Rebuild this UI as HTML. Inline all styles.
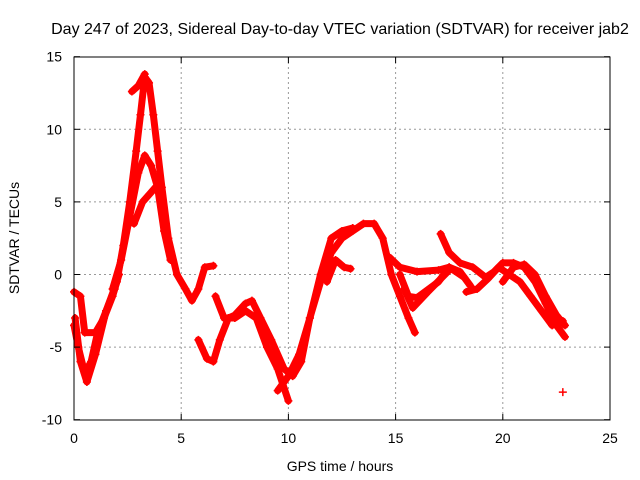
<!DOCTYPE html>
<html><head><meta charset="utf-8"><style>
body{margin:0;background:#fff}
svg{display:block;font-family:"Liberation Sans",sans-serif}
</style></head><body>
<svg id="c" width="640" height="480">
<rect width="640" height="480" fill="#fff"/>
<text x="340" y="34" font-size="16" text-anchor="middle">Day 247 of 2023, Sidereal Day-to-day VTEC variation (SDTVAR) for receiver jab2</text>
<g id="grid"></g>
<g id="marks"></g>
<rect x="74" y="57" width="536" height="363" fill="none" stroke="#000" stroke-width="1"/>
<g id="ticks" font-size="14"></g>
<text x="340" y="471" font-size="14" text-anchor="middle">GPS time / hours</text>
<text transform="translate(19,238) rotate(-90)" font-size="14" text-anchor="middle">SDTVAR / TECUs</text>
</svg>
<script>
const xTicks=[0,5,10,15,20,25];
const yTicks=[-10,-5,0,5,10,15];
const trackA=[[0.05,-3],[0.3,-6],[0.6,-7.4],[1,-5.5],[1.5,-2.5],[2,-0.5],[2.3,2],[2.6,5],[2.9,8.5],[3.1,11],[3.3,13.6],[3.5,13.2],[3.7,11],[3.9,8.5],[4.1,6],[4.4,2.5],[4.8,0],[5.2,-1],[5.5,-1.8],[5.8,-1],[6.1,0.5],[6.5,0.6]];
const trackB=[[1.8,-1],[2.2,1],[2.6,4],[3.0,7],[3.3,8.2],[3.6,7.5],[3.9,6],[4.2,3],[4.5,1]];
const trackC=[[2.7,12.6],[3.0,13],[3.3,13.8]];
const trackD=[[2.8,3.5],[3.2,5],[3.5,5.5],[3.8,6]];
const trackE=[[0,-1.2],[0.3,-1.5],[0.5,-4],[1,-4],[1.4,-3],[1.8,-1.5],[2.1,0]];
const trackF=[[0,-3.5],[0.2,-5],[0.5,-6.8],[0.8,-6],[1.1,-4],[1.5,-2.5],[1.9,-1]];
const trackG=[[5.8,-4.5],[6.2,-5.8],[6.5,-6],[6.8,-4.5],[7.2,-3],[7.5,-2.8],[8,-2],[8.3,-1.8],[8.7,-3],[9.2,-4.5],[9.8,-6.5],[10.2,-7],[10.6,-6],[11,-3],[11.5,-0.5],[12,1.5],[12.5,2.5],[13,3],[13.5,3.5],[14,3.5],[14.4,2.5],[14.8,0],[15.2,-1.5],[15.6,-3],[15.9,-4]];
const trackH=[[6.6,-1.5],[7,-3],[7.5,-3],[8,-2.5],[8.5,-3],[9,-5],[9.5,-6.5],[10,-8.7]];
const trackI=[[9.5,-8],[10,-7],[10.5,-5.5],[11,-3],[11.5,0],[12,2.5],[12.5,3],[13,3.2]];
const trackJ=[[11.8,-0.5],[12.2,1],[12.6,0.5],[12.9,0.4]];
const trackK=[[14.7,1.2],[15.2,0.5],[16,0.2],[17,0.3],[17.5,0.5],[18,0.2],[18.5,-0.8]];
const trackL=[[15.2,0],[15.6,-1.5],[16,-1.6],[17,-0.5],[17.5,0.5],[18.2,-0.2]];
const trackM=[[15.4,-1],[15.8,-2.3],[16.5,-1.2],[17.5,0.3]];
const trackN=[[17.1,2.8],[17.5,1.5],[18,0.8],[18.6,0.5],[19.2,-0.2],[19.6,0.2],[20,0.8],[20.5,0.8],[21,0.5],[21.5,-0.5],[22,-2],[22.5,-3.5],[22.9,-4.3]];
const trackO=[[18.3,-1.2],[18.8,-1],[19.3,-0.3],[19.8,0.5],[20.3,0],[20.8,-0.5],[21.3,-1.5],[21.8,-2.5],[22.3,-3.5],[22.8,-3.2]];
const trackP=[[20,-0.5],[20.5,0.5],[21,0.7],[21.5,0],[22,-1.5],[22.5,-2.8],[22.9,-3.5]];
const trackQ=[[22.8,-8.1]];
const tracks=[trackA,trackB,trackC,trackD,trackE,trackF,trackG,trackH,trackI,trackJ,trackK,trackL,trackM,trackN,trackO,trackP,trackQ];
const X=t=>74+21.44*t, Y=v=>274.5-14.52*v;
const NS="http://www.w3.org/2000/svg";
const grid=document.getElementById('grid'),ticks=document.getElementById('ticks'),marks=document.getElementById('marks');
function mk(tag,attrs,parent){const e=document.createElementNS(NS,tag);for(const k in attrs)e.setAttribute(k,attrs[k]);parent.appendChild(e);return e;}
xTicks.forEach(t=>{
  if(t>0&&t<25){const g=mk('line',{x1:X(t),x2:X(t),y1:57,y2:420,stroke:'#999','stroke-dasharray':'2,3'},grid);
  
  }
  mk('line',{x1:X(t),x2:X(t),y1:420,y2:414,stroke:'#000'},ticks);
  mk('line',{x1:X(t),x2:X(t),y1:57,y2:63,stroke:'#000'},ticks);
  const l=mk('text',{x:X(t),y:443,'text-anchor':'middle'},ticks);l.textContent=t;
  
  
});
yTicks.forEach(v=>{
  if(v>-10&&v<15){const g=mk('line',{x1:74,x2:610,y1:Y(v),y2:Y(v),stroke:'#999','stroke-dasharray':'2,3'},grid);
  
  }
  mk('line',{x1:74,x2:80,y1:Y(v),y2:Y(v),stroke:'#000'},ticks);
  mk('line',{x1:604,x2:610,y1:Y(v),y2:Y(v),stroke:'#000'},ticks);
  const l=mk('text',{x:62,y:Y(v)+5,'text-anchor':'end'},ticks);l.textContent=v;
  
  
});
tracks.forEach(tr=>{
  const p=mk('polyline',{points:tr.map(d=>X(d[0])+','+Y(d[1])).join(' '),fill:'none',stroke:'#f00','stroke-width':7,'stroke-linejoin':'round','stroke-linecap':'round'},marks);
  
  
  tr.forEach(d=>{
    const m=mk('path',{d:`M${X(d[0])-4},${Y(d[1])}h8M${X(d[0])},${Y(d[1])-4}v8`,stroke:'#f00','stroke-width':1.5},marks);
    
    
  });
});
</script>
</body></html>
